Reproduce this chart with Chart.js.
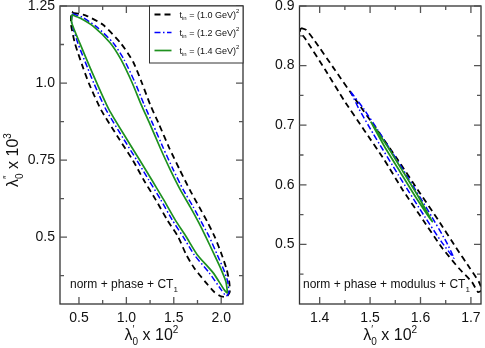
<!DOCTYPE html>
<html>
<head>
<meta charset="utf-8">
<script src="https://cdn.jsdelivr.net/npm/chart.js@4/dist/chart.umd.min.js"></script>
<style>
  html, body { margin: 0; padding: 0; background: #fff; }
  #wrap { position: relative; width: 485px; height: 348px; overflow: hidden; }
  canvas { position: absolute; top: 0; }
  #leftChart { left: 0; }
  #rightChart { left: 250px; }
</style>
</head>
<body>
<div id="wrap">
  <canvas id="leftChart" width="250" height="348"></canvas>
  <canvas id="rightChart" width="235" height="348"></canvas>
</div>
<script>
const FONT = '"Liberation Sans", Arial, Helvetica, sans-serif';

// legend: t_in values in GeV
const tinValues = ["1.0", "1.2", "1.4"];

// left panel (norm + phase + CT1), contour points
const leftBlackX = [0.437, 0.575, 0.754, 0.944, 1.071, 1.163, 1.251, 1.346, 1.451, 1.562, 1.668, 1.768, 1.853, 1.932, 2.006, 2.059, 2.085, 2.090, 2.053, 1.990, 1.927, 1.832, 1.715, 1.631, 1.546, 1.430, 1.310, 1.182, 1.071, 0.929, 0.733, 0.606, 0.543, 0.458, 0.416, 0.416, 0.427, 0.437];
const leftBlackY = [1.228, 1.219, 1.189, 1.128, 1.069, 1.001, 0.930, 0.865, 0.790, 0.719, 0.654, 0.598, 0.550, 0.501, 0.443, 0.394, 0.355, 0.322, 0.306, 0.309, 0.322, 0.355, 0.400, 0.443, 0.501, 0.556, 0.621, 0.686, 0.748, 0.816, 0.913, 0.998, 1.050, 1.128, 1.189, 1.215, 1.232, 1.228];
const leftBlueX = [0.432, 0.532, 0.680, 0.860, 0.976, 1.092, 1.187, 1.282, 1.388, 1.494, 1.599, 1.705, 1.789, 1.874, 1.958, 2.027, 2.069, 2.080, 2.053, 2.001, 1.874, 1.715, 1.599, 1.483, 1.363, 1.235, 1.113, 0.976, 0.786, 0.659, 0.590, 0.490, 0.421, 0.432];
const leftBlueY = [1.225, 1.214, 1.184, 1.131, 1.076, 1.001, 0.930, 0.865, 0.790, 0.719, 0.654, 0.598, 0.550, 0.501, 0.443, 0.394, 0.355, 0.319, 0.309, 0.329, 0.384, 0.443, 0.501, 0.556, 0.621, 0.686, 0.748, 0.816, 0.913, 0.998, 1.050, 1.128, 1.199, 1.225];
const leftGreenX = [0.424, 0.511, 0.652, 0.828, 0.944, 1.061, 1.156, 1.251, 1.356, 1.462, 1.568, 1.673, 1.758, 1.838, 1.927, 2.001, 2.050, 2.064, 2.032, 1.916, 1.747, 1.631, 1.515, 1.394, 1.267, 1.145, 1.008, 0.818, 0.691, 0.617, 0.511, 0.424, 0.424];
const leftGreenY = [1.222, 1.211, 1.184, 1.131, 1.076, 1.001, 0.930, 0.865, 0.790, 0.719, 0.654, 0.598, 0.550, 0.501, 0.443, 0.394, 0.355, 0.319, 0.329, 0.384, 0.443, 0.501, 0.556, 0.621, 0.686, 0.748, 0.816, 0.913, 0.998, 1.050, 1.128, 1.195, 1.222];

// right panel (norm + phase + modulus + CT1)
const rightBlackX = [1.363, 1.373, 1.389, 1.430, 1.472, 1.514, 1.555, 1.595, 1.635, 1.671, 1.698, 1.716, 1.722, 1.714, 1.702, 1.676, 1.643, 1.605, 1.565, 1.528, 1.488, 1.448, 1.411, 1.373, 1.361, 1.363];
const rightBlackY = [0.863, 0.860, 0.843, 0.793, 0.742, 0.692, 0.642, 0.591, 0.541, 0.494, 0.460, 0.437, 0.423, 0.420, 0.437, 0.460, 0.494, 0.541, 0.591, 0.642, 0.692, 0.742, 0.793, 0.843, 0.858, 0.863];
const rightBlueX = [1.4616, 1.4868, 1.5197, 1.5721, 1.6223, 1.6509, 1.6665, 1.6413, 1.6084, 1.5562, 1.5058, 1.4773, 1.4616];
const rightBlueY = [0.7562, 0.7282, 0.6862, 0.6164, 0.5465, 0.5047, 0.4767, 0.5047, 0.5465, 0.6164, 0.6862, 0.7282, 0.7562];
const rightGreenX = [1.5013, 1.5348, 1.5654, 1.5959, 1.6235, 1.5900, 1.5594, 1.5288, 1.5013];
const rightGreenY = [0.7059, 0.6639, 0.6220, 0.5800, 0.5381, 0.5800, 0.6220, 0.6639, 0.7059];

// ticks
const leftXTicks = [0.5, 1.0, 1.5, 2.0];
const leftXLabels = ["0.5", "1.0", "1.5", "2.0"];
const leftXMinor = [0.75, 1.25, 1.75];
const leftYTicks = [0.5, 0.75, 1.0, 1.25];
const leftYLabels = ["0.5", "0.75", "1.0", "1.25"];
const leftYMinor = [0.375, 0.625, 0.875, 1.125];
const rightXTicks = [1.4, 1.5, 1.6, 1.7];
const rightXLabels = ["1.4", "1.5", "1.6", "1.7"];
const rightXMinor = [1.45, 1.55, 1.65];
const rightYTicks = [0.5, 0.6, 0.7, 0.8, 0.9];
const rightYLabels = ["0.5", "0.6", "0.7", "0.8", "0.9"];
const rightYMinor = [0.45, 0.55, 0.65, 0.75, 0.85];

const styles = [
  { color: "#000000", dash: [6, 4], width: 1.8 },
  { color: "#0000ff", dash: [6, 2.5, 1.5, 2.5], width: 1.5 },
  { color: "#1e911e", dash: [], width: 1.7 }
];

const xTitle = [{ t: "λ" }, { t: "0", s: "sub" }, { t: "′", s: "sup", over: true }, { t: " x 10" }, { t: "2", s: "sup" }];
const yTitle = [{ t: "λ" }, { t: "0", s: "sub" }, { t: "″", s: "sup", over: true }, { t: " x 10" }, { t: "3", s: "sup" }];

function pts(xs, ys) {
  return xs.map((x, i) => ({ x: x, y: ys[i] }));
}

function makeSets(series, tension) {
  return series.map((s, i) => ({
    data: pts(s[0], s[1]),
    showLine: true,
    borderColor: styles[i].color,
    borderDash: styles[i].dash,
    borderWidth: styles[i].width,
    pointRadius: 0,
    fill: false,
    tension: tension,
    order: 3 - i
  }));
}

// text with sub/superscripts
function drawRich(ctx, parts, x, y, size, align) {
  const items = [];
  let w = 0, last = null;
  parts.forEach(p => {
    const fs = p.s ? Math.round(size * 0.65) : size;
    ctx.font = fs + "px " + FONT;
    const width = ctx.measureText(p.t).width;
    let dx;
    if (p.over && last) {
      dx = last.dx;
      w = Math.max(w, dx + width);
    } else {
      dx = w;
      w += width;
    }
    const it = Object.assign({}, p, { fs: fs, dx: dx });
    items.push(it);
    last = it;
  });
  const x0 = align === "center" ? x - w / 2 : x;
  ctx.textAlign = "left";
  ctx.textBaseline = "alphabetic";
  items.forEach(it => {
    ctx.font = it.fs + "px " + FONT;
    const dy = it.s === "sub" ? size * 0.3 : it.s === "sup" ? -size * 0.45 : 0;
    ctx.fillText(it.t, x0 + it.dx, y + dy);
  });
}

const decor = {
  id: "decor",
  afterDraw(chart, args, o) {
    const ctx = chart.ctx;
    const ca = chart.chartArea;
    const xs = chart.scales.x, ys = chart.scales.y;
    ctx.save();
    ctx.strokeStyle = "#333";
    ctx.lineWidth = 1.3;
    ctx.setLineDash([]);
    ctx.strokeRect(ca.left, ca.top, ca.right - ca.left, ca.bottom - ca.top);

    // inward ticks on all four sides
    ctx.strokeStyle = "#555";
    const tick = (vals, len) => {
      vals.forEach(v => {
        const px = xs.getPixelForValue(v);
        ctx.beginPath();
        ctx.moveTo(px, ca.bottom); ctx.lineTo(px, ca.bottom - len);
        ctx.moveTo(px, ca.top); ctx.lineTo(px, ca.top + len);
        ctx.stroke();
      });
    };
    const tickY = (vals, len) => {
      vals.forEach(v => {
        const py = ys.getPixelForValue(v);
        ctx.beginPath();
        ctx.moveTo(ca.left, py); ctx.lineTo(ca.left + len, py);
        ctx.moveTo(ca.right, py); ctx.lineTo(ca.right - len, py);
        ctx.stroke();
      });
    };
    tick(o.xMajor, 7); tick(o.xMinor, 4);
    tickY(o.yMajor, 7); tickY(o.yMinor, 4);

    ctx.fillStyle = "#111";
    drawRich(ctx, xTitle, (ca.left + ca.right) / 2, ca.bottom + 36, 16, "center");
    if (o.yTitle) {
      ctx.save();
      ctx.translate(18, 160);
      ctx.rotate(-Math.PI / 2);
      drawRich(ctx, yTitle, 0, 0, 16, "center");
      ctx.restore();
    }
    drawRich(ctx, [{ t: o.note }, { t: "1", s: "sub" }], ca.left + o.noteDx, ca.bottom - 16, 12, "left");

    if (o.legend) {
      const bx = ca.left + 89.5, by = ca.top;
      ctx.fillStyle = "#fff";
      ctx.fillRect(bx, by, ca.right - bx, 57);
      ctx.strokeStyle = "#333";
      ctx.lineWidth = 1;
      ctx.strokeRect(bx, by, ca.right - bx, 57);
      tinValues.forEach((v, i) => {
        const ry = by + 8.5 + i * 18;
        ctx.strokeStyle = styles[i].color;
        ctx.lineWidth = styles[i].width;
        ctx.setLineDash(styles[i].dash);
        ctx.beginPath();
        ctx.moveTo(bx + 5, ry); ctx.lineTo(bx + 22, ry);
        ctx.stroke();
        ctx.setLineDash([]);
        ctx.fillStyle = "#111";
        drawRich(ctx, [{ t: "t" }, { t: "in", s: "sub" }, { t: " = (" + v + " GeV)" }, { t: "2", s: "sup" }], bx + 30, ry + 3, 9, "left");
      });
    }
    ctx.restore();
  }
};

function makeScale(min, max, ticks, labels, size, isX) {
  return {
    type: "linear",
    min: min,
    max: max,
    grid: { display: false, drawTicks: false },
    border: { display: false },
    ticks: {
      color: "#111",
      font: { family: FONT, size: 14 },
      padding: isX ? 6 : 5,
      callback: (v, i) => labels[i]
    },
    afterBuildTicks: s => { s.ticks = ticks.map(v => ({ value: v })); },
    afterFit: s => {
      if (isX) s.height = size; else s.width = size;
      s.paddingLeft = 0; s.paddingRight = 0; s.paddingTop = 0; s.paddingBottom = 0;
    }
  };
}

const leftChart = new Chart(document.getElementById("leftChart"), {
  type: "scatter",
  data: {
    datasets: makeSets([[leftBlackX, leftBlackY], [leftBlueX, leftBlueY], [leftGreenX, leftGreenY]], 0.2)
  },
  options: {
    responsive: false,
    animation: false,
    layout: { padding: { top: 6, right: 7, bottom: 0, left: 0 } },
    plugins: {
      legend: { display: false },
      tooltip: { enabled: false },
      decor: {
        xMajor: leftXTicks, xMinor: leftXMinor, yMajor: leftYTicks, yMinor: leftYMinor,
        yTitle: true, legend: true, note: "norm + phase + CT", noteDx: 10
      }
    },
    scales: {
      x: makeScale(0.3, 2.23, leftXTicks, leftXLabels, 44, true),
      y: makeScale(0.283, 1.25, leftYTicks, leftYLabels, 60, false)
    }
  },
  plugins: [decor]
});

const rightChart = new Chart(document.getElementById("rightChart"), {
  type: "scatter",
  data: {
    datasets: makeSets([[rightBlackX, rightBlackY], [rightBlueX, rightBlueY], [rightGreenX, rightGreenY]], 0.15)
  },
  options: {
    responsive: false,
    animation: false,
    layout: { padding: { top: 6, right: 4, bottom: 0, left: 0 } },
    plugins: {
      legend: { display: false },
      tooltip: { enabled: false },
      decor: {
        xMajor: rightXTicks, xMinor: rightXMinor, yMajor: rightYTicks, yMinor: rightYMinor,
        yTitle: false, legend: false, note: "norm + phase + modulus + CT", noteDx: 3.5
      }
    },
    scales: {
      x: makeScale(1.36, 1.72, rightXTicks, rightXLabels, 44, true),
      y: makeScale(0.4, 0.9, rightYTicks, rightYLabels, 49.5, false)
    }
  },
  plugins: [decor]
});
</script>
</body>
</html>
